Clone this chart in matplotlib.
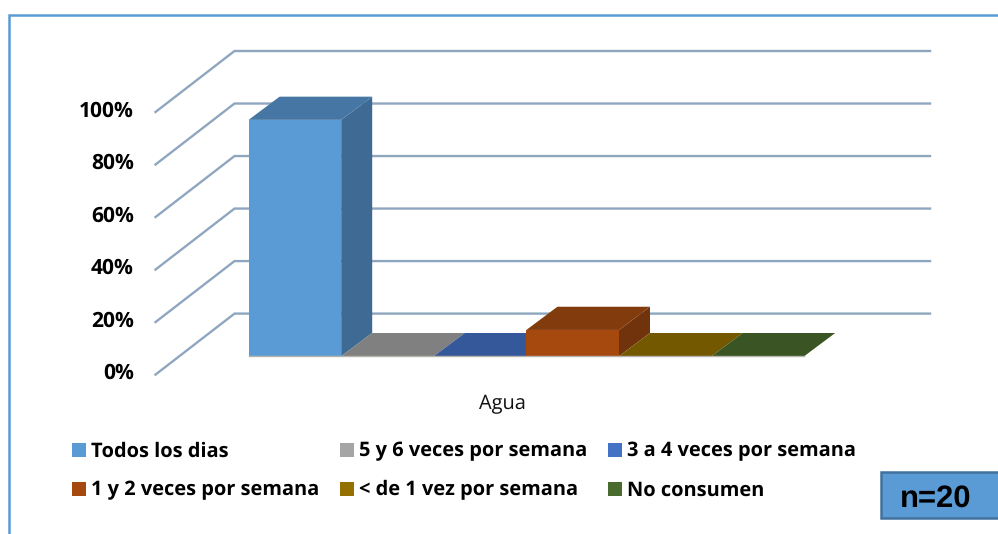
import matplotlib
matplotlib.use("Agg")
import matplotlib.pyplot as plt
from matplotlib.patches import Polygon, Rectangle

categories = ["Todos los dias", "5 y 6 veces por semana", "3 a 4 veces por semana",
              "1 y 2 veces por semana", "< de 1 vez por semana", "No consumen"]
values = [90, 0, 0, 10, 0, 0]
front_colors = ["#5B9BD5", "#A5A5A5", "#4472C4", "#A5490F", "#947000", "#4A6B2E"]
bar_front_colors = ["#5B9BD5", "#808080", "#35589A", "#A5490F", "#745800", "#3A5424"]
side_colors = ["#3E6A93", "#707070", "#2F4F88", "#71330B", "#665000", "#33491F"]
top_colors = ["#4676A3", "#808080", "#35589A", "#813B0C", "#745800", "#3A5424"]
yticks = [0, 20, 40, 60, 80, 100]
ytick_labels = ["0%", "20%", "40%", "60%", "80%", "100%"]
group_label = "Agua"
n_label = "n=20"

W, H = 998, 534
plt.rcParams['font.family'] = ['Open Sans', 'DejaVu Sans']
plt.rcParams['text.hinting'] = 'none'
plt.rcParams['text.hinting_factor'] = 1
fig = plt.figure(figsize=(W / 100, H / 100), dpi=100)
ax = fig.add_axes([0, 0, 1, 1])
ax.set_xlim(0, W)
ax.set_ylim(H, 0)
ax.axis("off")

BLUE = "#5B9BD5"
GRID = "#8FA6BF"
# outer frame, open to the right and bottom of the picture
ax.plot([9.5, 9.5, 998], [534, 15, 15], color=BLUE, lw=1.8, solid_joinstyle="miter", zorder=1)

# value scale
Y0_BACK, PX_PER_UNIT = 313.6, 2.626
FRONT_X, BACK_X, RIGHT_X = 155.5, 234.5, 930
FRONT_DY = 61

def y_back(v):
    return Y0_BACK - v * PX_PER_UNIT

for v, lab in zip(yticks, ytick_labels):
    yb = y_back(v)
    ax.plot([FRONT_X, BACK_X, RIGHT_X], [yb + FRONT_DY, yb, yb], color=GRID, lw=1.7,
            solid_joinstyle="miter", zorder=2)
    ax.text(134, yb + FRONT_DY - 1, lab, ha="right", va="center", fontsize=15,
            fontweight="bold", color="black", zorder=6)

# bars
BASE_Y = 356.2
BAR_X0, BAR_W = 248.6, 92.6
DX, DY = 31, 23.2
for i, v in enumerate(values):
    x0 = BAR_X0 + i * BAR_W
    x1 = x0 + BAR_W
    yt = BASE_Y - v * PX_PER_UNIT
    z = 3 + i * 0.1
    ax.add_patch(Polygon([(x1, BASE_Y), (x1 + DX, BASE_Y - DY), (x1 + DX, yt - DY), (x1, yt)],
                         closed=True, fc=side_colors[i], ec="none", zorder=z))
    ax.add_patch(Polygon([(x0, yt), (x1, yt), (x1 + DX, yt - DY), (x0 + DX, yt - DY)],
                         closed=True, fc=top_colors[i], ec="none", zorder=z))
    ax.add_patch(Rectangle((x0, yt), BAR_W, BASE_Y - yt, fc=bar_front_colors[i], ec="none", zorder=z + 0.05))

ax.plot([BAR_X0, BAR_X0 + 6 * BAR_W], [BASE_Y, BASE_Y], color="#B5B5AE", lw=1.0, zorder=5)

ax.text(502, 404, group_label, ha="center", va="center", fontsize=14.6, color="#111111")

# legend
leg_x = [72, 340, 608, 72, 340, 608]
leg_y = [450, 450, 450, 489, 489, 489]
for i, cat in enumerate(categories):
    ax.add_patch(Rectangle((leg_x[i], leg_y[i] - 7), 14, 14, fc=front_colors[i], ec="none"))
    ax.text(leg_x[i] + 19, leg_y[i] + 1.2, cat, ha="left", va="center", fontsize=14.2,
            fontweight="bold", color="black")

# n box
ax.add_patch(Rectangle((881.5, 471.5), 120, 46, fc=BLUE, ec="#41719C", lw=1.8, zorder=6))
ax.text(935.5, 498.5, n_label, ha="center", va="center", fontsize=22, fontweight="bold",
        family="Liberation Sans", color="black", zorder=7)

fig.savefig("out.png", dpi=100)
